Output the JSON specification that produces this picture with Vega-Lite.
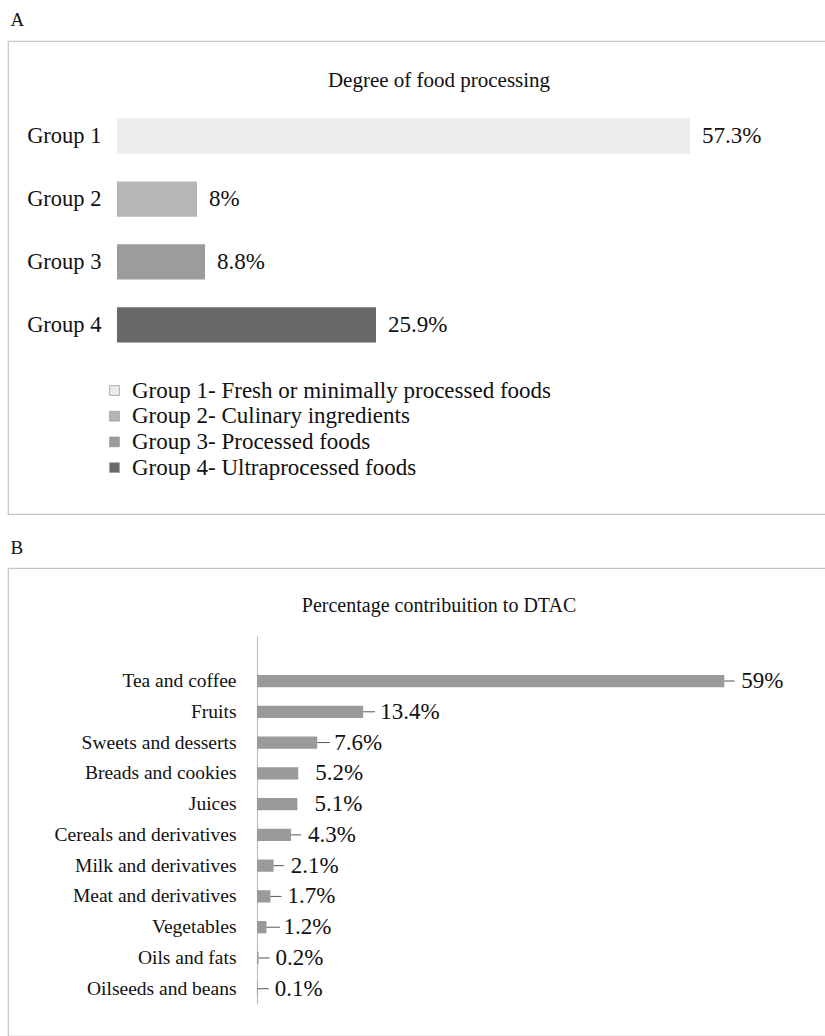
{
  "$schema": "https://vega.github.io/schema/vega-lite/v6.json",
  "padding": {"left": 7, "top": 11, "right": 0, "bottom": 0},
  "background": "white",
  "config": {
    "font": "Liberation Serif",
    "view": {"stroke": "#c4c4c4", "strokeWidth": 1.2},
    "concat": {"spacing": 0},
    "text": {"font": "Liberation Serif"},
    "legend": {"labelFont": "Liberation Serif"},
    "axis": {"labelFont": "Liberation Serif"},
    "title": {"font": "Liberation Serif"}
  },
  "datasets": {
    "processing": [
      {"group": "Group 1", "category": "Group 1- Fresh or minimally processed foods", "share": 0.573},
      {"group": "Group 2", "category": "Group 2- Culinary ingredients", "share": 0.08},
      {"group": "Group 3", "category": "Group 3- Processed foods", "share": 0.088},
      {"group": "Group 4", "category": "Group 4- Ultraprocessed foods", "share": 0.259}
    ],
    "dtac": [
      {"item": "Tea and coffee", "share": 0.59, "upper": 0.603},
      {"item": "Fruits", "share": 0.134, "upper": 0.149},
      {"item": "Sweets and desserts", "share": 0.076, "upper": 0.092},
      {"item": "Breads and cookies", "share": 0.052, "upper": 0.052},
      {"item": "Juices", "share": 0.051, "upper": 0.051},
      {"item": "Cereals and derivatives", "share": 0.043, "upper": 0.056},
      {"item": "Milk and derivatives", "share": 0.021, "upper": 0.034},
      {"item": "Meat and derivatives", "share": 0.017, "upper": 0.031},
      {"item": "Vegetables", "share": 0.012, "upper": 0.029},
      {"item": "Oils and fats", "share": 0.002, "upper": 0.016},
      {"item": "Oilseeds and beans", "share": 0.001, "upper": 0.015}
    ]
  },
  "spacing": 24,
  "vconcat": [
    {
      "title": {"text": "A", "anchor": "start", "fontSize": 19, "fontWeight": "normal", "color": "#111111", "dx": 3, "offset": 10},
      "vconcat": [
        {
          "width": 818,
          "height": 473,
          "title": {"text": "Degree of food processing", "anchor": "middle", "fontSize": 21, "fontWeight": "normal", "color": "#111111", "offset": -50, "dx": 22},
          "data": {"name": "processing"},
          "layer": [
            {
              "mark": {"type": "bar"},
              "encoding": {
                "y": {"field": "group", "type": "nominal", "sort": null,
                  "scale": {"range": [77.5, 301.5], "paddingInner": 0.44, "paddingOuter": 0},
                  "axis": {"offset": -109, "domain": false, "ticks": false, "labelPadding": 16, "labelFontSize": 22.5, "labelColor": "#111111", "title": null}},
                "x": {"field": "share", "type": "quantitative", "scale": {"domain": [0, 0.7], "range": [109, 809]}, "axis": null},
                "color": {"field": "category", "type": "nominal", "sort": null,
                  "scale": {"range": ["#ececec", "#b6b6b6", "#9c9c9c", "#686868"]},
                  "legend": {"title": null, "orient": "none", "legendX": 95, "legendY": 338, "symbolType": "square", "symbolSize": 95, "symbolStrokeColor": "#9a9a9a", "symbolStrokeWidth": 0.8, "labelFont": "Liberation Serif", "labelFontSize": 23, "labelColor": "#111111", "labelOffset": 6, "rowPadding": 1.7, "labelLimit": 600}}
              }
            },
            {
              "mark": {"type": "text", "align": "left", "baseline": "middle", "dx": 12, "fontSize": 23, "font": "Liberation Serif", "color": "#111111"},
              "encoding": {
                "y": {"field": "group", "type": "nominal", "sort": null},
                "x": {"field": "share", "type": "quantitative"},
                "text": {"field": "share", "type": "quantitative", "format": ".1~%"}
              }
            }
          ]
        }
      ]
    },
    {
      "title": {"text": "B", "anchor": "start", "fontSize": 19, "fontWeight": "normal", "color": "#111111", "dx": 3, "offset": 9},
      "vconcat": [
        {
          "width": 818,
          "height": 468,
          "title": {"text": "Percentage contribuition to DTAC", "anchor": "middle", "fontSize": 20, "fontWeight": "normal", "color": "#111111", "offset": -48, "dx": 22},
          "data": {"name": "dtac"},
          "layer": [
            {
              "mark": {"type": "bar", "color": "#9a9a9a"},
              "encoding": {
                "y": {"field": "item", "type": "nominal", "sort": null,
                  "scale": {"range": [68, 436], "paddingInner": 0.6, "paddingOuter": 0.78, "align": 0.81},
                  "axis": {"offset": -249, "domain": true, "domainColor": "#c0c0c0", "domainWidth": 1.2, "ticks": false, "labelPadding": 21, "labelFontSize": 19.5, "labelLimit": 300, "labelColor": "#111111", "title": null}},
                "x": {"field": "share", "type": "quantitative", "scale": {"domain": [0, 0.7], "range": [249, 803.4]}, "axis": null}
              }
            },
            {
              "mark": {"type": "rule", "color": "#555555", "strokeWidth": 1},
              "encoding": {
                "y": {"field": "item", "type": "nominal", "sort": null, "bandPosition": 0.5},
                "x": {"field": "share", "type": "quantitative"},
                "x2": {"field": "upper"}
              }
            },
            {
              "mark": {"type": "text", "align": "left", "baseline": "middle", "dx": 17, "fontSize": 23, "font": "Liberation Serif", "color": "#111111"},
              "encoding": {
                "y": {"field": "item", "type": "nominal", "sort": null},
                "x": {"field": "share", "type": "quantitative"},
                "text": {"field": "share", "type": "quantitative", "format": ".1~%"}
              }
            }
          ]
        }
      ]
    }
  ]
}
